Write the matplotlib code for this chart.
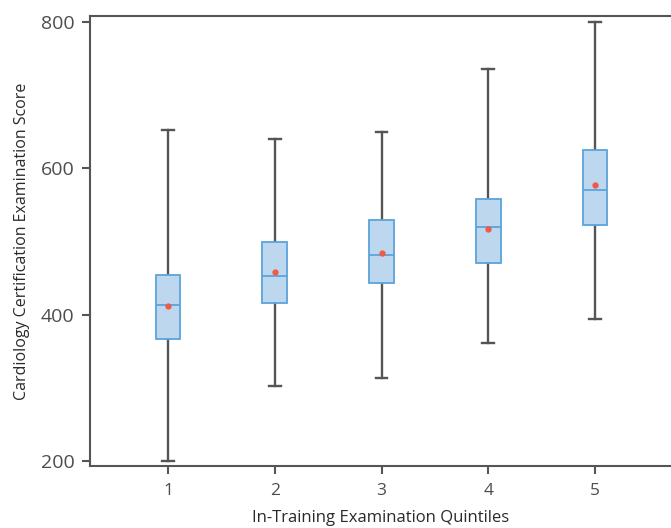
import matplotlib
matplotlib.use("Agg")
import matplotlib.pyplot as plt

# Data (score per ITE quintile)
quintiles = [1, 2, 3, 4, 5]
whisker_low = [200, 302, 313, 361, 394]
q1 = [367, 416, 443, 471, 523]
medians = [413, 453, 482, 520, 570]
q3 = [454, 499, 529, 558, 625]
whisker_high = [652, 640, 650, 735, 800]
means = [411, 458, 484, 517, 577]

plt.rcParams['font.family'] = ['Open Sans', 'DejaVu Sans']

GREY = '#555555'
BOX_FILL = '#bdd7ee'
BOX_EDGE = '#5ba3db'
MEAN_COL = '#f05a46'

fig = plt.figure(figsize=(6.71, 5.28), dpi=100)
ax = fig.add_axes([0.1341, 0.1174, 0.8659, 0.8523])

stats = []
for i in range(len(quintiles)):
    stats.append({
        'whislo': whisker_low[i], 'q1': q1[i], 'med': medians[i],
        'q3': q3[i], 'whishi': whisker_high[i], 'mean': means[i],
        'fliers': [],
    })

bp = ax.bxp(stats, positions=quintiles, widths=0.23, patch_artist=True,
            showmeans=True, showfliers=False,
            boxprops=dict(facecolor=BOX_FILL, edgecolor=BOX_EDGE, linewidth=1.3),
            medianprops=dict(color=BOX_EDGE, linewidth=1.3),
            whiskerprops=dict(color=GREY, linewidth=1.7),
            capprops=dict(color=GREY, linewidth=1.7),
            capwidths=0.11,
            meanprops=dict(marker='o', markersize=3.5, markerfacecolor=MEAN_COL,
                           markeredgecolor=MEAN_COL))

# whiskers under the boxes, median and mean on top
for line in bp['whiskers'] + bp['caps']:
    line.set_zorder(1)
for patch in bp['boxes']:
    patch.set_zorder(2)
for line in bp['medians']:
    line.set_zorder(3)
for line in bp['means']:
    line.set_zorder(4)

ax.set_xlim(0.27, 5.71)
ax.set_ylim(193, 808)
ax.set_xticks(quintiles)
ax.set_xticklabels([str(q) for q in quintiles])
ax.set_yticks([200, 400, 600, 800])

for side in ['left', 'bottom', 'top']:
    ax.spines[side].set_color(GREY)
    ax.spines[side].set_linewidth(1.5)
ax.spines['right'].set_visible(False)

ax.tick_params(axis='both', colors=GREY, length=6, width=1.5, direction='out')
ax.tick_params(axis='y', labelsize=14, pad=5)
ax.tick_params(axis='x', labelsize=12.5, pad=6)
for lbl in ax.get_xticklabels() + ax.get_yticklabels():
    lbl.set_color('#4d4d4d')

ax.set_xlabel('In-Training Examination Quintiles', fontsize=12,
              color='#2a2a2a', labelpad=8)
ax.set_ylabel('Cardiology Certification Examination Score', fontsize=11.5,
              color='#2a2a2a', labelpad=8)

fig.savefig('out.png', dpi=100)
